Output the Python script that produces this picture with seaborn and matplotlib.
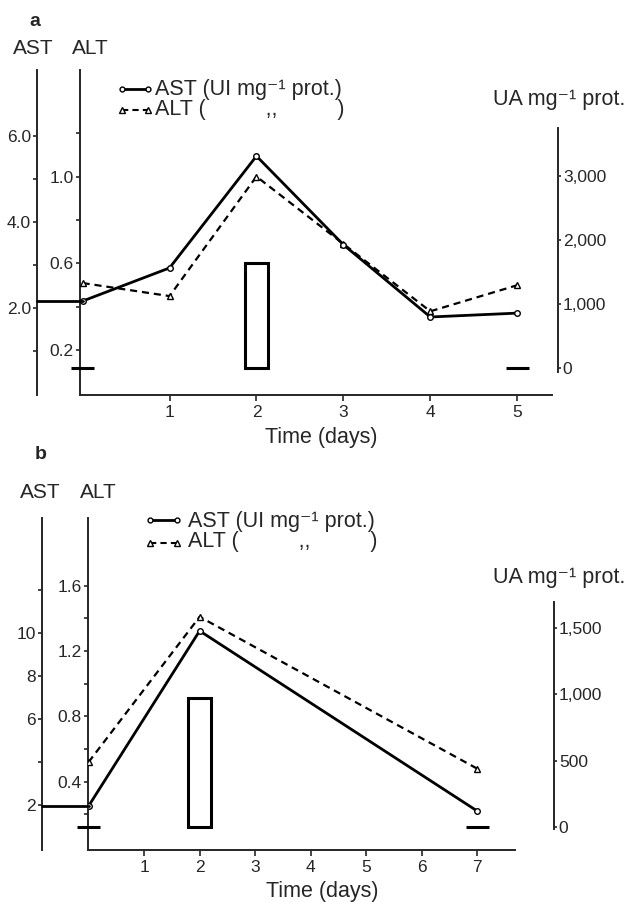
import numpy as np
import pandas as pd
import matplotlib
matplotlib.use("Agg")
import matplotlib.pyplot as plt
import seaborn as sns
from matplotlib.lines import Line2D

# ---------------- data ----------------
# panel a
days_a = [0, 1, 2, 3, 4, 5]
ast_a = [2.16, 2.93, 5.53, 3.47, 1.79, 1.88]
alt_a = [0.51, 0.45, 1.00, 0.69, 0.38, 0.50]
ua_days_a = [0, 2, 5]
ua_a = [0, 1640, 0]
# panel b
days_b = [0, 2, 7]
ast_b = [1.95, 10.1, 1.72]
alt_b = [0.52, 1.41, 0.48]
ua_days_b = [0, 2, 7]
ua_b = [0, 970, 0]

# tick definitions
ast_major_a, ast_minor_a = [2.0, 4.0, 6.0], [1.0, 3.0, 5.0]
alt_major_a, alt_minor_a = [0.2, 0.6, 1.0], [0.4, 0.8, 1.2]
ua_ticks_a = [0, 1000, 2000, 3000]
xt_a = [1, 2, 3, 4, 5]
ast_major_b, ast_minor_b = [2, 6, 8, 10], [4, 12]
alt_major_b, alt_minor_b = [0.4, 0.8, 1.2, 1.6], [0.2, 0.6, 1.0, 1.4]
ua_ticks_b = [0, 500, 1000, 1500]
xt_b = [1, 2, 3, 4, 5, 6, 7]

legend_text = ("AST (UI mg\u207b\u00b9 prot.)\n"
               "ALT (" + " " * 10 + ",," + " " * 10 + ")")
ua_title = "UA mg\u207b\u00b9 prot."
xlabel = "Time (days)"

# ---------------- style ----------------
sns.set_style("ticks")
plt.rcParams["font.family"] = ["Liberation Sans", "DejaVu Sans"]

W, H, DPI = 627, 902, 100
PT = 72.0 / DPI
fig = plt.figure(figsize=(W / DPI, H / DPI), dpi=DPI)
fig.patch.set_facecolor("white")

LW_SPINE = 1.4
TICK_FS = 12.5
HEAD_FS = 15
LEG_FS = 15.5
XL_FS = 15.5


def rect(l, t, r, b):
    return [l / W, 1 - b / H, (r - l) / W, (b - t) / H]


def ftext(x, y, s, **kw):
    kw.setdefault("va", "center")
    fig.text(x / W, 1 - y / H, s, **kw)


def fmt_labels(vals, fmt):
    return [fmt(v) for v in vals]


def panel(main, xlim, alt_ylim, ast_ylim, ast_off, ua_box, ua_ylim, ua_off,
          days, ast, alt, ua_days, ua, ast_major, ast_minor, alt_major,
          alt_minor, ua_ticks, xt, ast_fmt, alt_fmt, bar_px):
    l, t, r, b = main
    px_per_day = (r - l) / (xlim[1] - xlim[0])

    # main axes: ALT + time
    ax = fig.add_axes(rect(*main))
    ax.patch.set_visible(False)
    ax.set_xlim(*xlim)
    ax.set_ylim(*alt_ylim)
    for s in ["top", "right"]:
        ax.spines[s].set_visible(False)
    for s in ["left", "bottom"]:
        ax.spines[s].set_linewidth(LW_SPINE)
    ax.set_xticks(xt)
    ax.set_xticklabels([str(v) for v in xt], fontsize=TICK_FS)
    ax.set_yticks(alt_major)
    ax.set_yticklabels(fmt_labels(alt_major, alt_fmt), fontsize=TICK_FS)
    ax.set_yticks(alt_minor, minor=True)
    ax.tick_params(axis="x", length=4, width=1.2, pad=3)
    ax.tick_params(axis="y", which="both", length=3, width=1.2, pad=1.5)

    # AST axis (offset left)
    ax_ast = fig.add_axes(rect(*main), sharex=ax)
    ax_ast.patch.set_visible(False)
    ax_ast.set_ylim(*ast_ylim)
    for s in ["top", "right", "bottom"]:
        ax_ast.spines[s].set_visible(False)
    ax_ast.spines["left"].set_position(("outward", ast_off * PT))
    ax_ast.spines["left"].set_linewidth(LW_SPINE)
    ax_ast.tick_params(axis="x", bottom=False, labelbottom=False)
    ax_ast.set_yticks(ast_major)
    ax_ast.set_yticklabels(fmt_labels(ast_major, ast_fmt), fontsize=TICK_FS)
    ax_ast.set_yticks(ast_minor, minor=True)
    ax_ast.tick_params(axis="y", which="both", length=3, width=1.2, pad=1.5)

    # UA axis (right)
    ax_ua = fig.add_axes(rect(*ua_box), sharex=ax)
    ax_ua.patch.set_visible(False)
    ax_ua.set_ylim(*ua_ylim)
    for s in ["top", "left", "bottom"]:
        ax_ua.spines[s].set_visible(False)
    ax_ua.spines["right"].set_position(("outward", ua_off * PT))
    ax_ua.spines["right"].set_linewidth(LW_SPINE)
    ax_ua.yaxis.set_ticks_position("right")
    ax_ua.tick_params(axis="x", bottom=False, labelbottom=False)
    ax_ua.set_yticks(ua_ticks)
    ax_ua.set_yticklabels([f"{v:,}" for v in ua_ticks], fontsize=TICK_FS)
    ax_ua.tick_params(axis="y", length=2.5, width=1.2, pad=1.0, direction="out")

    # UA bars
    bars = ax_ua.bar(ua_days, ua, width=bar_px / px_per_day, facecolor="white",
                     edgecolor="black", linewidth=2.2, zorder=2)
    for p in bars:
        p.set_clip_on(False)

    # AST line (solid, circles)
    sns.lineplot(x=days, y=ast, ax=ax_ast, color="black", linewidth=2.0,
                 marker="o", markersize=4, markerfacecolor="white",
                 markeredgecolor="black", markeredgewidth=1.0,
                 errorbar=None, zorder=4)
    x_spine = xlim[0] - ast_off / px_per_day
    ax_ast.plot([x_spine, days[0]], [ast[0], ast[0]], color="black",
                linewidth=2.0, clip_on=False, zorder=4)

    # ALT line (dashed, triangles)
    sns.lineplot(x=days, y=alt, ax=ax, color="black", linewidth=1.6,
                 linestyle=(0, (3.2, 2.2)),
                 marker="^", markersize=4.5, markerfacecolor="white",
                 markeredgecolor="black", markeredgewidth=1.0,
                 errorbar=None, zorder=3)
    for a in (ax, ax_ast, ax_ua):
        a.set_xlabel("")
        a.set_ylabel("")
        if a.get_legend():
            a.get_legend().remove()
    return ax


def legend(x0, x1, xt_, y1, y2):
    tr = fig.transFigure
    fig.add_artist(Line2D([x0 / W, x1 / W], [1 - y1 / H, 1 - y1 / H],
                          transform=tr, color="black", linewidth=2.0,
                          marker="o", markersize=3.5, markerfacecolor="white",
                          markeredgewidth=1.0))
    fig.add_artist(Line2D([x0 / W, x1 / W], [1 - y2 / H, 1 - y2 / H],
                          transform=tr, color="black", linewidth=1.5,
                          linestyle=(0, (3, 2)),
                          marker="^", markersize=4, markerfacecolor="white",
                          markeredgewidth=1.0))
    ftext(xt_, (y1 + y2) / 2, legend_text, fontsize=LEG_FS, ha="left",
          multialignment="left", linespacing=0.92)


# ---------------- panel a ----------------
panel(main=(80, 70, 552, 395), xlim=(-0.03, 5.40),
      alt_ylim=(-0.005, 1.49), ast_ylim=(-0.023, 7.53), ast_off=43,
      ua_box=(80, 128, 552, 372), ua_ylim=(-62, 3750), ua_off=6,
      days=days_a, ast=ast_a, alt=alt_a, ua_days=ua_days_a, ua=ua_a,
      ast_major=ast_major_a, ast_minor=ast_minor_a,
      alt_major=alt_major_a, alt_minor=alt_minor_a,
      ua_ticks=ua_ticks_a, xt=xt_a,
      ast_fmt=lambda v: f"{v:.1f}", alt_fmt=lambda v: f"{v:.1f}", bar_px=23)

ftext(35, 21, "a", fontsize=14, fontweight="bold", ha="center")
ftext(33, 48, "AST", fontsize=HEAD_FS, ha="center")
ftext(90, 48, "ALT", fontsize=HEAD_FS, ha="center")
legend(122, 148, 155, 89, 110)
ftext(625, 100, ua_title, fontsize=LEG_FS, ha="right")
ftext(321, 437, xlabel, fontsize=XL_FS, ha="center")

# ---------------- panel b ----------------
panel(main=(88, 518, 515, 850), xlim=(-0.01, 7.68),
      alt_ylim=(-0.018, 2.015), ast_ylim=(-0.093, 15.35), ast_off=46,
      ua_box=(88, 602, 515, 829), ua_ylim=(-15, 1692), ua_off=39,
      days=days_b, ast=ast_b, alt=alt_b, ua_days=ua_days_b, ua=ua_b,
      ast_major=ast_major_b, ast_minor=ast_minor_b,
      alt_major=alt_major_b, alt_minor=alt_minor_b,
      ua_ticks=ua_ticks_b, xt=xt_b,
      ast_fmt=lambda v: f"{v:g}", alt_fmt=lambda v: f"{v:.1f}", bar_px=23)

ftext(41, 455, "b", fontsize=14, fontweight="bold", ha="center")
ftext(40, 493, "AST", fontsize=HEAD_FS, ha="center")
ftext(98, 493, "ALT", fontsize=HEAD_FS, ha="center")
legend(150, 177, 188, 520, 543)
ftext(625, 578, ua_title, fontsize=LEG_FS, ha="right")
ftext(322, 892, xlabel, fontsize=XL_FS, ha="center")

fig.savefig("out.png", dpi=DPI)
